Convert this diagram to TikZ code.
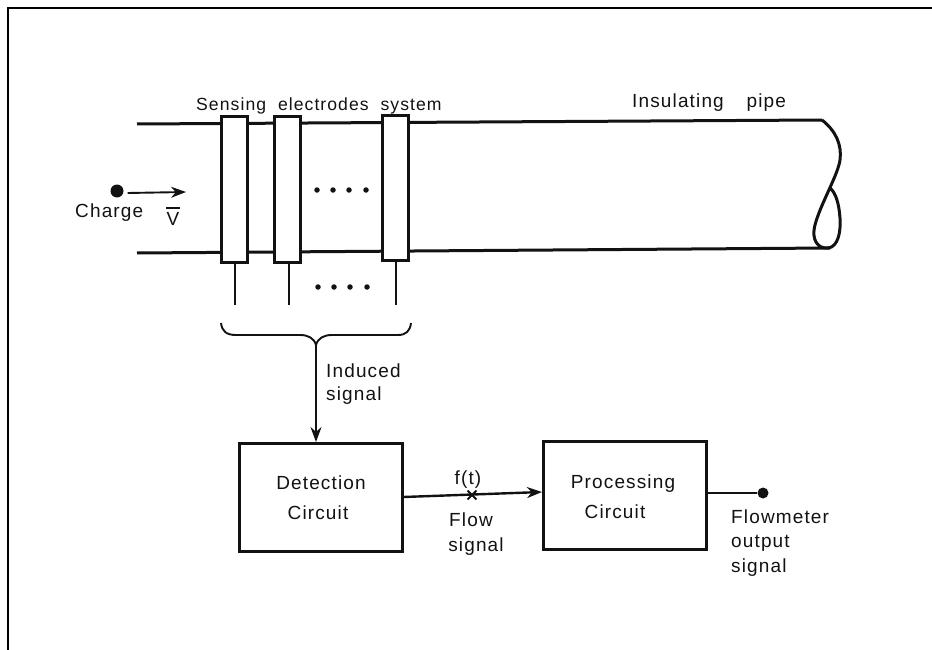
\documentclass[tikz,border=0pt]{standalone}
\usepackage{fontspec}
\setmainfont{Liberation Sans}[LetterSpace=6,WordSpace=2]
\usepackage{tikz}
\usetikzlibrary{arrows.meta,positioning,calc,shapes.misc}
\definecolor{inkblack}{RGB}{18,18,18}
\tikzset{
    thickline/.style={draw=inkblack, line width=3pt},
    thinline/.style={draw=inkblack, line width=1.9pt},
    electrode/.style={thickline, fill=white, minimum width=26pt, minimum height=145pt, inner sep=0pt},
    circuitbox/.style={thickline, fill=white, minimum width=163pt, minimum height=108pt, align=center, inner sep=0pt},
    label/.style={text=inkblack, font=\fontsize{19}{22}\selectfont, inner sep=0pt, anchor=base},
    leftlabel/.style={label, anchor=base west},
    flowarrow/.style={-{Stealth[length=15pt,width=11pt]}},
    dotmark/.style={circle, fill=inkblack, inner sep=0pt, minimum size=5.5pt},
}
\begin{document}
\begin{tikzpicture}[x=1pt,y=-1pt]
            \useasboundingbox (0,0) rectangle (932,650);
            \draw[draw=black, line width=2.5pt] (8,650) -- (8,8) -- (932,8);

            \coordinate (topleft) at (137,124);
            \coordinate (topright) at (822,120);
            \coordinate (botleft) at (137,253);
            \coordinate (botright) at (830,248);
            \draw[thickline] (topleft) -- (topright);
            \draw[thickline] (botleft) -- (botright);
            \draw[thickline] (topright) .. controls (836,131) and (842,145) .. (840,160)
                .. controls (838,175) and (820,205) .. (815,225)
                .. controls (811,240) and (818,249) .. (828,248)
                .. controls (838,247) and (841,232) .. (840,218)
                .. controls (839,204) and (836,193) .. (830,188);

            \node[electrode] (elecA) at (234,189.5) {};
            \node[electrode] (elecB) at (287,189.5) {};
            \node[electrode] (elecC) at (395,188) {};

            \coordinate (leadA) at (235,305);
            \coordinate (leadB) at (289,305);
            \coordinate (leadC) at (396,305);
            \draw[thinline] (leadA |- elecA.south) -- (leadA);
            \draw[thinline] (leadB |- elecB.south) -- (leadB);
            \draw[thinline] (leadC |- elecC.south) -- (leadC);

            \foreach \px in {317,333,349,366} {
                \node[dotmark] at (\px,190) {};
                \node[dotmark] at (\px+1,287) {};
            }

            \node[leftlabel, font=\fontsize{17.6}{22}\selectfont] (sensing) at (196,111) {Sensing electrodes system};
            \node[leftlabel] (insulating) at (632,108) {Insulating\hspace{10pt} pipe};

            \node[circle, fill=inkblack, minimum size=13pt, inner sep=0pt] (charge) at (117,191) {};
            \coordinate (velocity) at (186,192);
            \draw[thinline, flowarrow] (charge.east) ++(4,2) -- (velocity);
            \node[leftlabel] (chargetext) at (75,217) {Charge};
            \node[label] (vbar) at (173,225) {V};
            \draw[thinline] ([yshift=4pt]vbar.north west) -- ([yshift=4pt]vbar.north east);

            \coordinate (braceleft) at (221,323);
            \coordinate (braceright) at (411,323);
            \coordinate (bracetip) at (316,345);
            \draw[thinline] (braceleft) .. controls (222,331) and (226,335) .. (236,335)
                -- (300,335) .. controls (308,335) and (314,338) .. (bracetip)
                .. controls (318,338) and (324,335) .. (332,335)
                -- (398,335) .. controls (406,335) and (410,331) .. (braceright);

            \node[circuitbox] (detection) at (320.5,497.5) {};
            \node[circuitbox] (processing) at (625,495) {};
            \node[label] at (321,489) {Detection};
            \node[label] at (318,519) {Circuit};
            \node[label] at (623,488) {Processing};
            \node[label] at (615,518) {Circuit};

            \draw[thinline, flowarrow] (bracetip) -- (bracetip |- detection.north);
            \node[leftlabel] (induced) at (326,377) {Induced};
            \node[leftlabel] (signalA) at (326,400) {signal};

            \draw[thickline, line width=2.4pt, flowarrow] (detection.east |- 0,497) -- (processing.west |- 0,492);
            \node[cross out, draw=inkblack, line width=1.8pt, minimum size=7pt, inner sep=0pt] (cross) at (472,495) {};
            \node[label] (ft) at (468,484) {f(t)};
            \node[label] (flow) at (471,526) {Flow};
            \node[label] (signalB) at (476,551) {signal};

            \node[circle, fill=inkblack, minimum size=11pt, inner sep=0pt] (outdot) at (763,493) {};
            \draw[thickline, line width=2.4pt] (processing.east |- outdot) -- (outdot);
            \node[leftlabel] (flowmeter) at (731,523) {Flowmeter};
            \node[leftlabel] (outputtext) at (731,547) {output};
            \node[leftlabel] (signalC) at (731,572) {signal};
        \end{tikzpicture}
\end{document}
